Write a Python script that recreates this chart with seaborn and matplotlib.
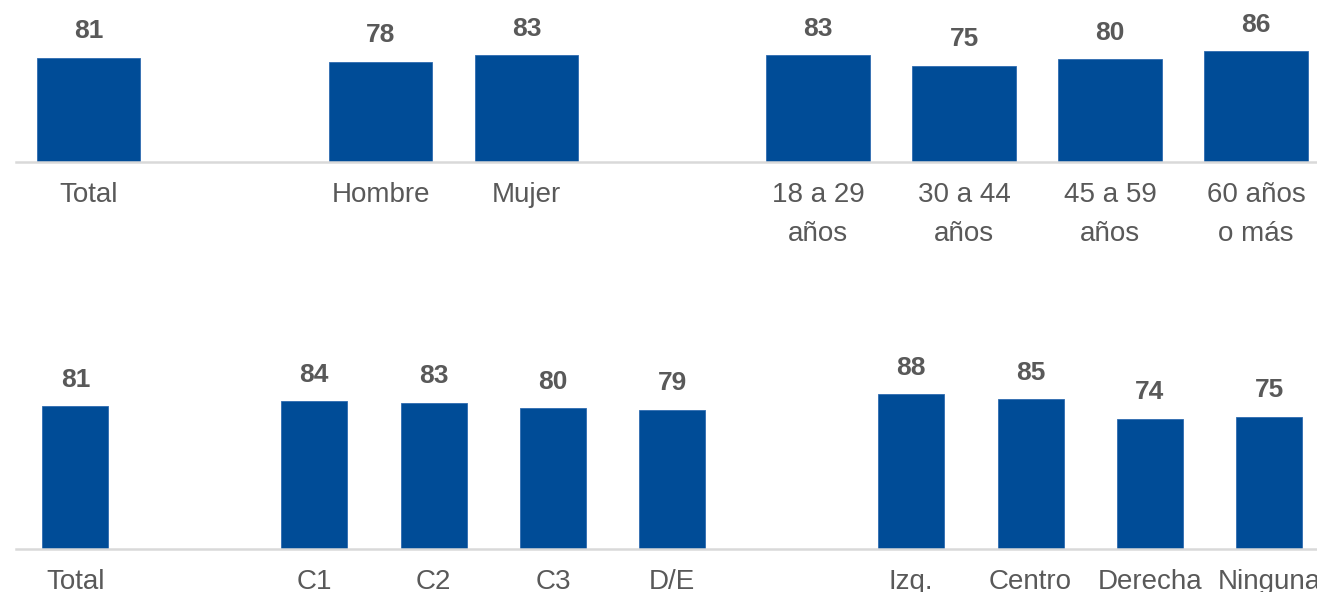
import matplotlib
matplotlib.use("Agg")
import matplotlib.pyplot as plt
import seaborn as sns
import pandas as pd

# Top panel: total, sex and age groups
top_categories = ["Total", "Hombre", "Mujer",
                  "18 a 29\naños", "30 a 44\naños", "45 a 59\naños", "60 años\no más"]
top_values = [81, 78, 83, 83, 75, 80, 86]
top_order = ["Total", "", "Hombre", "Mujer", " ",
             "18 a 29\naños", "30 a 44\naños", "45 a 59\naños", "60 años\no más"]

# Bottom panel: total, socioeconomic group and political position
bottom_categories = ["Total", "C1", "C2", "C3", "D/E", "Izq.", "Centro", "Derecha", "Ninguna"]
bottom_values = [81, 84, 83, 80, 79, 88, 85, 74, 75]
bottom_order = ["Total", "", "C1", "C2", "C3", "D/E", " ",
                "Izq.", "Centro", "Derecha", "Ninguna"]

BLUE = "#004C97"
GREY_TEXT = "#595959"
GRID = "#D9D9D9"

sns.set_theme(style="white")
plt.rcParams["font.family"] = ["Liberation Sans", "DejaVu Sans"]

fig = plt.figure(figsize=(13.17, 5.92), dpi=100)
W, H = 1317.0, 592.0


def panel(rect_px, cats, vals, order, width):
    left, bottom_y, right, top_y = rect_px
    ax = fig.add_axes([left / W, 1 - bottom_y / H, (right - left) / W, (bottom_y - top_y) / H])
    df = pd.DataFrame({"cat": cats, "val": vals})
    sns.barplot(data=df, x="cat", y="val", order=order, color=BLUE,
                saturation=1, width=width, ax=ax, edgecolor="#2E6BB0", linewidth=0.6)
    ax.set_xlim(-0.5, len(order) - 0.5)
    ax.set_ylim(0, 100)
    ax.set_xlabel("")
    ax.set_ylabel("")
    ax.set_yticks([])
    for side in ("left", "right", "top"):
        ax.spines[side].set_visible(False)
    ax.spines["bottom"].set_color(GRID)
    ax.spines["bottom"].set_linewidth(1.8)
    ax.tick_params(axis="x", length=0, pad=14.5, labelsize=20, labelcolor=GREY_TEXT)
    for t in ax.get_xticklabels():
        t.set_linespacing(1.65)
    ax.bar_label(ax.containers[0], fmt="%.0f", padding=10.5, fontsize=19,
                 fontweight="bold", color=GREY_TEXT)
    return ax


panel((15.7, 162.3, 1329.0, 33.3), top_categories, top_values, top_order, 0.71)
panel((15.7, 549.0, 1329.0, 373.0), bottom_categories, bottom_values, bottom_order, 0.553)

fig.savefig("out.png", dpi=100)
